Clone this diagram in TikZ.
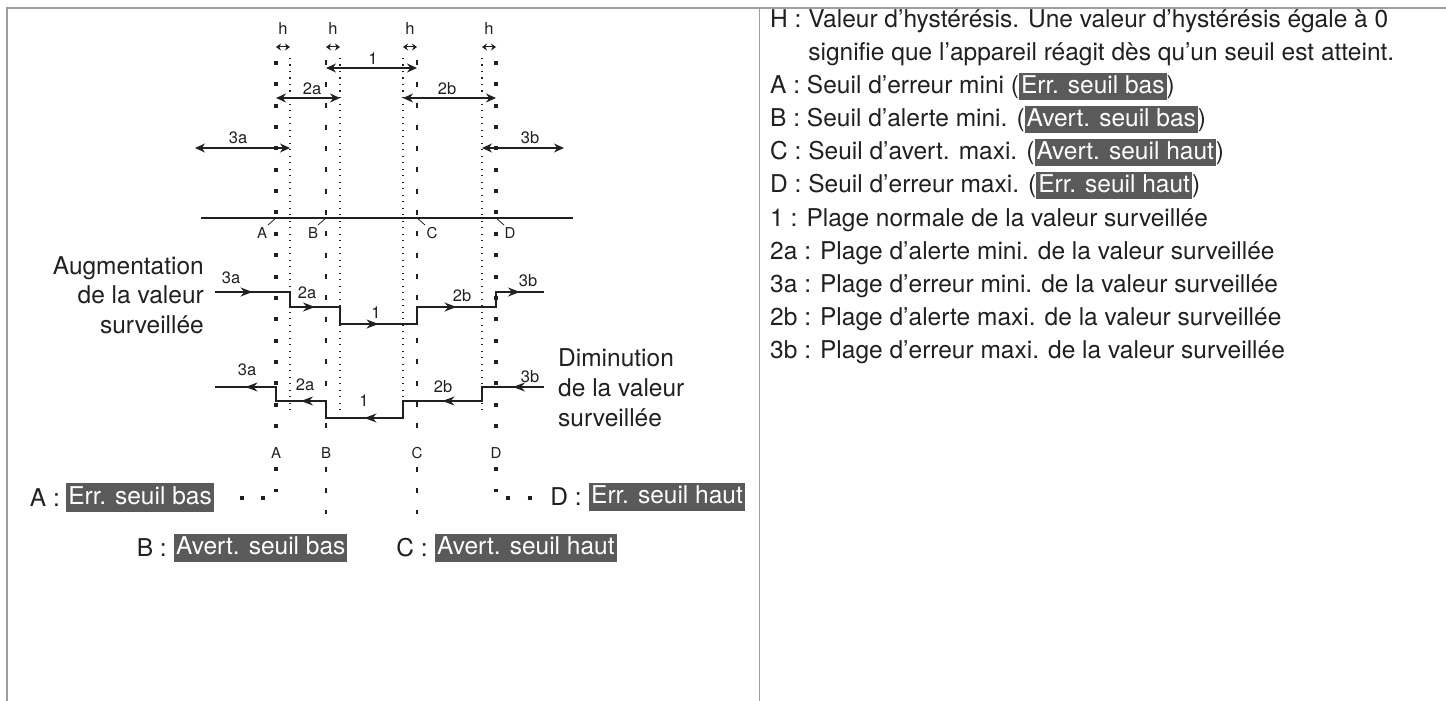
\documentclass[tikz,border=0pt]{standalone}
\usepackage{fontspec}
\setmainfont{TeX Gyre Heros}
\usetikzlibrary{arrows.meta,positioning,calc,decorations.markings}

\definecolor{ink}{HTML}{231F20}
\definecolor{tagfill}{HTML}{5A5A5A}
\definecolor{framegray}{HTML}{9E9E9E}

\newcommand{\tagbox}[1]{{\setlength{\fboxsep}{2pt}\colorbox{tagfill}{\vphantom{()}\textcolor{white}{#1}}}}

\begin{document}
\begin{tikzpicture}[x=1pt, y=-1pt, ink,
    big/.style={font=\fontsize{24.5}{29.5}\selectfont, inner sep=0pt},
    small/.style={font=\fontsize{16.5}{19}\selectfont, inner sep=1pt},
    letter/.style={font=\fontsize{15}{18}\selectfont, inner sep=1pt},
    tag/.style={fill=tagfill, text=white, inner xsep=2pt, inner ysep=2.5pt,
                text height=18.5pt, text depth=5pt,
                font=\fontsize{24.5}{29.5}\selectfont},
    errline/.style={line width=4pt, dash pattern=on 4pt off 17.35pt},
    warnline/.style={line width=2.4pt, dash pattern=on 5pt off 16.35pt},
    hystline/.style={line width=1.2pt, dash pattern=on 1.3pt off 5.2pt},
    span/.style={line width=1.2pt,
                 {Stealth[length=10pt,width=9pt]}-{Stealth[length=10pt,width=9pt]}},
    hspan/.style={line width=1pt,
                  {Stealth[length=5pt,width=7pt]}-{Stealth[length=5pt,width=7pt]}},
    trace/.style={line width=1.4pt},
    flow/.style={postaction={decorate}, decoration={markings,
                 mark=at position 0.5 with {\arrow{Stealth[length=12pt,width=9pt]}}}}]

    \useasboundingbox (0,0) rectangle (1446,701);

    % Frame
    \draw[framegray, line width=2pt] (6.5,701) -- (6.5,8.3) -- (1446,8.3);
    \draw[framegray, line width=1.2pt] (759.5,8.3) -- (759.5,701);

    % Threshold columns
    \coordinate (A)  at (276,0);
    \coordinate (Ah) at (290,0);
    \coordinate (B)  at (326,0);
    \coordinate (Bh) at (340,0);
    \coordinate (Ch) at (403,0);
    \coordinate (C)  at (417,0);
    \coordinate (Dh) at (482,0);
    \coordinate (D)  at (496,0);

    % Threshold lines
    \draw[errline]  (A |- 0,61) -- (A |- 0,430);
    \draw[errline]  (A |- 0,467.3) -- (A |- 0,492);
    \draw[errline]  (D |- 0,61) -- (D |- 0,430);
    \draw[errline]  (D |- 0,467.3) -- (D |- 0,492);
    \draw[warnline] (B |- 0,60.5) -- (B |- 0,430);
    \draw[warnline] (B |- 0,466.8) -- (B |- 0,514);
    \draw[warnline] (C |- 0,60.5) -- (C |- 0,430);
    \draw[warnline] (C |- 0,466.8) -- (C |- 0,514);
    \foreach \c in {Ah,Bh,Ch,Dh}
        \draw[hystline] (\c |- 0,58) -- (\c |- 0,412);

    % Hysteresis widths
    \foreach \t/\h/\n in {A/Ah/hA, B/Bh/hB, Ch/C/hC, Dh/D/hD} {
        \draw[hspan] (\t |- 0,47) -- (\h |- 0,47);
        \node[small] (\n) at ($(\t |- 0,28)!0.5!(\h |- 0,28)$) {h};
    }

    % Ranges
    \coordinate (left3a)  at (195,148);
    \coordinate (right3b) at (564,148);
    \draw[span] (B |- 0,68) -- (C |- 0,68);
    \draw[span] (A |- 0,98) -- (Bh |- 0,98);
    \draw[span] (Ch |- 0,98) -- (D |- 0,98);
    \draw[span] (left3a) -- (Ah |- left3a);
    \draw[span] (Dh |- right3b) -- (right3b);
    \node[small] (r1)  at (373,59)  {1};
    \node[small] (r2a) at (312,89)  {2a};
    \node[small] (r2b) at (447,89)  {2b};
    \node[small] (r3a) at (238,138) {3a};
    \node[small] (r3b) at (530,138) {3b};

    % Value axis
    \draw[line width=1.3pt] (201,218) -- (573,218);
    \draw[line width=0.8pt] (A |- 0,218) -- ++(-8,7);
    \draw[line width=0.8pt] (B |- 0,218) -- ++(-8,7);
    \draw[line width=0.8pt] (C |- 0,218) -- ++(8,7);
    \draw[line width=0.8pt] (D |- 0,218) -- ++(8,7);
    \node[letter] (axA) at (262,233) {A};
    \node[letter] (axB) at (313,233) {B};
    \node[letter] (axC) at (432,233) {C};
    \node[letter] (axD) at (510,233) {D};

    % Rising value
    \node[big, align=right, anchor=east] (rise) at (204,295)
        {Augmentation\\de la valeur\\surveillée};
    \coordinate (u0) at (215,292);
    \coordinate (u1) at (290,292);
    \coordinate (u2) at (290,307);
    \coordinate (u3) at (340,307);
    \coordinate (u4) at (340,324);
    \coordinate (u5) at (417,324);
    \coordinate (u6) at (417,307);
    \coordinate (u7) at (496,307);
    \coordinate (u8) at (496,292);
    \coordinate (u9) at (544,292);
    \draw[trace] (u0) -- (u1) -- (u2) -- (u3) -- (u4) -- (u5) -- (u6) -- (u7) -- (u8) -- (u9);
    \foreach \a/\b in {u0/u1, u2/u3, u4/u5, u6/u7, u8/u9}
        \draw[trace, flow] (\a) -- (\b);
    \node[small] (u3a) at (231,278) {3a};
    \node[small] (u2a) at (307,293) {2a};
    \node[small] (u1l) at (376,313) {1};
    \node[small] (u2b) at (462,296) {2b};
    \node[small] (u3b) at (528,281) {3b};

    % Falling value
    \node[big, align=left, anchor=west, font=\fontsize{24.5}{30}\selectfont] (fall) at (558,388)
        {Diminution\\de la valeur\\surveillée};
    \coordinate (d0) at (544,387);
    \coordinate (d1) at (482,387);
    \coordinate (d2) at (482,401);
    \coordinate (d3) at (403,401);
    \coordinate (d4) at (403,418);
    \coordinate (d5) at (326,418);
    \coordinate (d6) at (326,401);
    \coordinate (d7) at (276,401);
    \coordinate (d8) at (276,387);
    \coordinate (d9) at (215,387);
    \draw[trace] (d0) -- (d1) -- (d2) -- (d3) -- (d4) -- (d5) -- (d6) -- (d7) -- (d8) -- (d9);
    \foreach \a/\b in {d0/d1, d2/d3, d4/d5, d6/d7, d8/d9}
        \draw[trace, flow] (\a) -- (\b);
    \node[small] (d3a) at (247,370) {3a};
    \node[small] (d2a) at (305,385) {2a};
    \node[small] (d1l) at (364,401) {1};
    \node[small] (d2b) at (443,387) {2b};
    \node[small] (d3b) at (530,377) {3b};

    % Threshold letters
    \node[letter] (lowA) at (A |- 0,453) {A};
    \node[letter] (lowB) at (B |- 0,453) {B};
    \node[letter] (lowC) at (C |- 0,453) {C};
    \node[letter] (lowD) at (D |- 0,453) {D};

    % Threshold tags
    \node[tag, anchor=east] (errlow) at (214,497.5) {Err. seuil bas};
    \node[big, left=6pt of errlow] (keyA) {A :};
    \node[tag, anchor=west] (errhigh) at (589,497) {Err. seuil haut};
    \node[big, left=7pt of errhigh] (keyD) {D :};
    \node[tag, anchor=west] (warnlow) at (174,548) {Avert. seuil bas};
    \node[big, left=7pt of warnlow] (keyB) {B :};
    \node[tag, anchor=west] (warnhigh) at (435,548) {Avert. seuil haut};
    \node[big, left=7pt of warnhigh] (keyC) {C :};
    \draw[errline] (265,497.5) -- (239,497.5);
    \draw[errline] (506.3,497.5) -- (532,497.5);

    % Legend
    \node[big, anchor=base west] (legH)  at (770,28)  {H : Valeur d’hystérésis. Une valeur d’hystérésis égale à 0};
    \node[big, anchor=base west] (legH2) at (770,60)  {\phantom{H : }signifie que l’appareil réagit dès qu’un seuil est atteint.};
    \node[big, anchor=base west] (legA)  at (770,93)  {A : Seuil d’erreur mini (\tagbox{Err. seuil bas})};
    \node[big, anchor=base west] (legB)  at (770,126) {B : Seuil d’alerte mini. (\tagbox{Avert. seuil bas})};
    \node[big, anchor=base west] (legC)  at (770,159) {C : Seuil d’avert. maxi. (\tagbox{Avert. seuil haut})};
    \node[big, anchor=base west] (legD)  at (770,192) {D : Seuil d’erreur maxi. (\tagbox{Err. seuil haut})};
    \node[big, anchor=base west] (leg1)  at (770,226) {1 : Plage normale de la valeur surveillée};
    \node[big, anchor=base west] (leg2a) at (770,259) {2a : Plage d’alerte mini. de la valeur surveillée};
    \node[big, anchor=base west] (leg3a) at (770,292) {3a : Plage d’erreur mini. de la valeur surveillée};
    \node[big, anchor=base west] (leg2b) at (770,325) {2b : Plage d’alerte maxi. de la valeur surveillée};
    \node[big, anchor=base west] (leg3b) at (770,358) {3b : Plage d’erreur maxi. de la valeur surveillée};
\end{tikzpicture}
\end{document}
